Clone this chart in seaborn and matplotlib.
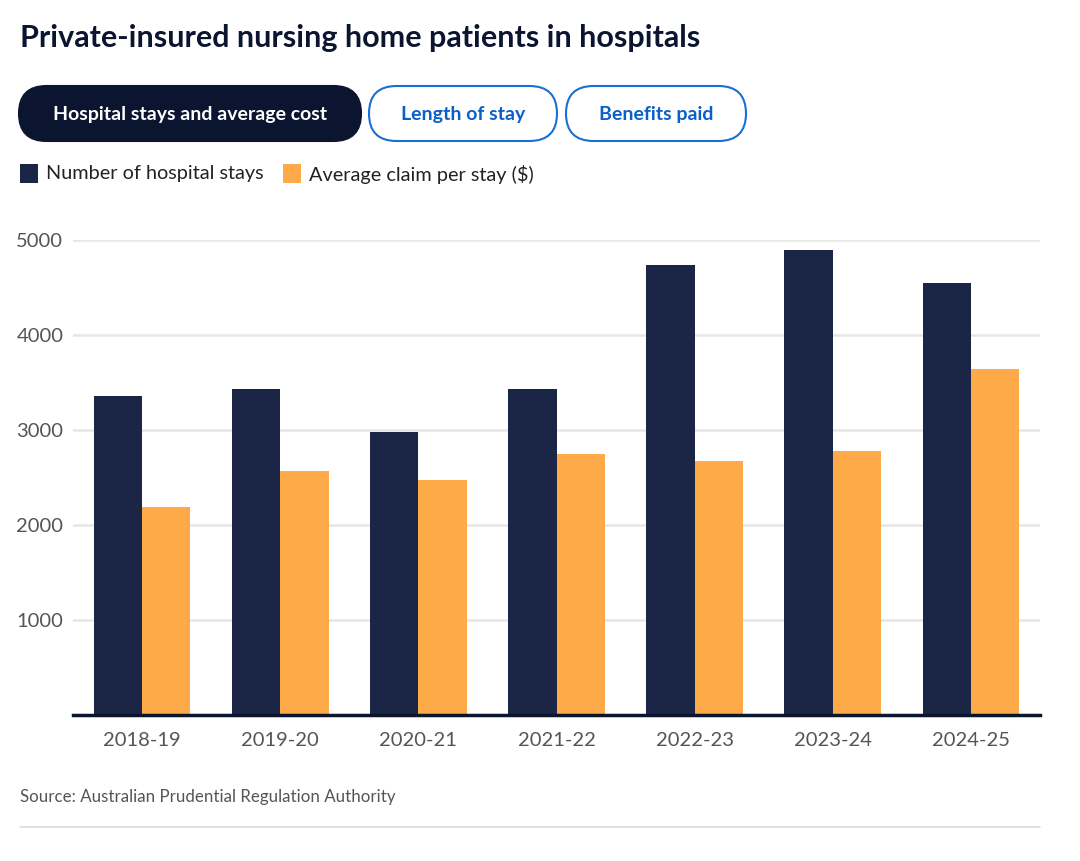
import matplotlib
matplotlib.use("Agg")
import matplotlib.pyplot as plt
from matplotlib.patches import FancyBboxPatch, Rectangle
import seaborn as sns
import pandas as pd

years = ["2018-19", "2019-20", "2020-21", "2021-22", "2022-23", "2023-24", "2024-25"]
hospital_stays = [3361, 3428, 2982, 3428, 4737, 4892, 4544]
avg_claim = [2186, 2572, 2474, 2744, 2674, 2782, 3645]
series_names = ["Number of hospital stays", "Average claim per stay ($)"]
y_ticks = [1000, 2000, 3000, 4000, 5000]

DARK = "#1b2646"
ORANGE = "#ffaa48"
NAVY = "#0b1530"
BLUE = "#0a5fc8"
GRAY = "#555555"

df = pd.DataFrame({
    "year": years * 2,
    "value": hospital_stays + avg_claim,
    "series": [series_names[0]] * len(years) + [series_names[1]] * len(years),
})

sns.set_theme(style="white")
plt.rcParams["font.family"] = ["Lato", "DejaVu Sans"]

W, H = 1080, 861
fig = plt.figure(figsize=(W / 100, H / 100), dpi=100)
ax = fig.add_axes([73 / W, 1 - 715 / H, (1040 - 73) / W, (715 - 240) / H])

sns.barplot(data=df, x="year", y="value", hue="series", order=years,
            hue_order=series_names, palette=[DARK, ORANGE], width=0.7,
            saturation=1, edgecolor="none", ax=ax, legend=False)

ax.set_xlim(-0.5, len(years) - 0.5)
ax.set_ylim(0, 5000)
ax.set_yticks(y_ticks)
ax.set_yticklabels([str(t) for t in y_ticks])
ax.grid(axis="y", color="#e6e6e6", linewidth=1.8)
ax.set_axisbelow(True)
for s in ["top", "right", "left"]:
    ax.spines[s].set_visible(False)
ax.spines["bottom"].set_color(NAVY)
ax.spines["bottom"].set_linewidth(2.5)
ax.set_xlabel("")
ax.set_ylabel("")
ax.tick_params(axis="y", length=0, pad=7, labelsize=14.5, labelcolor=GRAY)
ax.tick_params(axis="x", length=0, pad=12, labelsize=14.5, labelcolor=GRAY)

# overlay in pixel coordinates
ov = fig.add_axes([0, 0, 1, 1], zorder=-1)
ov.set_xlim(0, W)
ov.set_ylim(H, 0)
ov.axis("off")

ov.text(20, 38, "Private-insured nursing home patients in hospitals",
        fontsize=22, fontweight="bold", color=NAVY, va="center", ha="left")

buttons = [
    ("Hospital stays and average cost", 19, 361, True),
    ("Length of stay", 369, 557, False),
    ("Benefits paid", 566, 746, False),
]
for label, x0, x1, active in buttons:
    y0, y1 = 86, 141
    r = (y1 - y0) / 2
    box = FancyBboxPatch((x0, y0), x1 - x0, y1 - y0,
                         boxstyle=f"round,pad=0,rounding_size={r}",
                         facecolor=NAVY if active else "white",
                         edgecolor=NAVY if active else "#1a6fd6",
                         linewidth=1.5)
    ov.add_patch(box)
    ov.text((x0 + x1) / 2, (y0 + y1) / 2 + 1, label, fontsize=14, fontweight="bold",
            color="white" if active else BLUE, ha="center", va="center")

# legend
leg_items = [(20, DARK, series_names[0]), (283, ORANGE, series_names[1])]
for x, c, t in leg_items:
    ov.add_patch(Rectangle((x, 164), 18, 19, facecolor=c, edgecolor="none"))
    ov.text(x + 26, 174, t, fontsize=14.3, color="#222222", va="center", ha="left")

ov.text(20, 797, "Source: Australian Prudential Regulation Authority",
        fontsize=12.2, color=GRAY, va="center", ha="left")
ov.plot([20, 1040], [827, 827], color="#d8dbe0", linewidth=1.2)

fig.savefig("out.png", dpi=100, facecolor="white")
